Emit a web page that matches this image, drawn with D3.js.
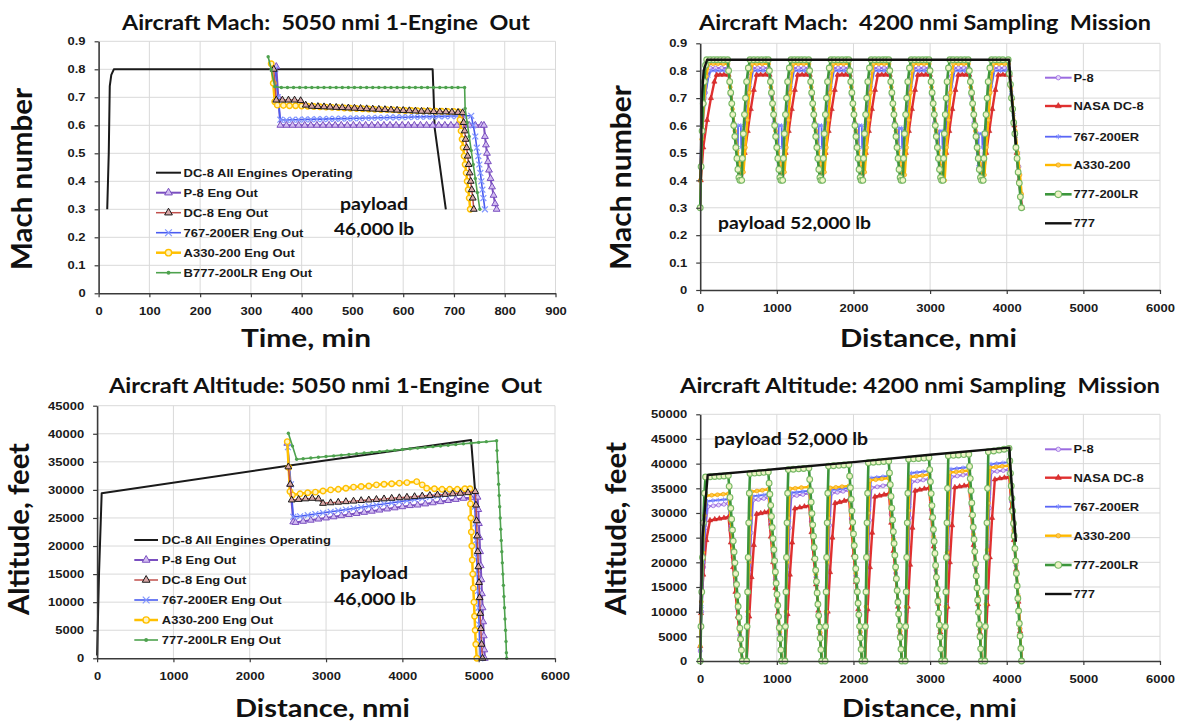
<!DOCTYPE html>
<html>
<head>
<meta charset="utf-8">
<script src="https://cdnjs.cloudflare.com/ajax/libs/d3/7.8.5/d3.min.js"></script>
<style>
  body { margin: 0; background: #fff; }
  svg { display: block; }
</style>
</head>
<body>
<svg id="fig" width="1180" height="725"></svg>
<script>
// ---- tick values / labels ----
const machTicks = [0, 0.1, 0.2, 0.3, 0.4, 0.5, 0.6, 0.7, 0.8, 0.9];
const machLabels = ["0", "0.1", "0.2", "0.3", "0.4", "0.5", "0.6", "0.7", "0.8", "0.9"];
const timeTicks = [0, 100, 200, 300, 400, 500, 600, 700, 800, 900];
const timeLabels = ["0", "100", "200", "300", "400", "500", "600", "700", "800", "900"];
const distTicks = [0, 1000, 2000, 3000, 4000, 5000, 6000];
const distLabels = ["0", "1000", "2000", "3000", "4000", "5000", "6000"];
const alt45Ticks = [0, 5000, 10000, 15000, 20000, 25000, 30000, 35000, 40000, 45000];
const alt45Labels = ["0", "5000", "10000", "15000", "20000", "25000", "30000", "35000", "40000", "45000"];
const alt50Ticks = [0, 5000, 10000, 15000, 20000, 25000, 30000, 35000, 40000, 45000, 50000];
const alt50Labels = ["0", "5000", "10000", "15000", "20000", "25000", "30000", "35000", "40000", "45000", "50000"];

const engOutNames = ["DC-8 All Engines Operating", "P-8 Eng Out", "DC-8 Eng Out", "767-200ER Eng Out", "A330-200 Eng Out", "B777-200LR Eng Out"];
const engOutNamesAlt = ["DC-8 All Engines Operating", "P-8 Eng Out", "DC-8 Eng Out", "767-200ER Eng Out", "A330-200 Eng Out", "777-200LR Eng Out"];
const sampleNames = ["P-8", "NASA DC-8", "767-200ER", "A330-200", "777-200LR", "777"];

// ---- Mach vs time, 5050 nmi engine out [min, Mach] ----
const machOutDc8All = [[17,0.30],[20,0.50],[22,0.74],[25,0.78],[30,0.80],[658,0.80],[660,0.70],[662,0.59],[684,0.30]];
const machOutP8 = [[350,0.81],[354,0.70],[358,0.60],[370,0.60],[382,0.60],[394,0.60],[406,0.60],[418,0.60],[430,0.60],[442,0.60],[454,0.60],[466,0.60],[478,0.60],[490,0.60],[502,0.60],[514,0.60],[526,0.60],[538,0.60],[550,0.60],[562,0.60],[574,0.60],[586,0.60],[598,0.60],[610,0.60],[622,0.60],[634,0.60],[646,0.60],[658,0.60],[670,0.60],[682,0.60],[694,0.60],[706,0.60],[718,0.60],[730,0.60],[742,0.60],[754,0.60],[759,0.60],[761,0.56],[763,0.53],[765,0.50],[767,0.47],[769,0.44],[772,0.41],[775,0.38],[778,0.35],[781,0.32],[784,0.30]];
const machOutDc8 = [[345,0.80],[350,0.69],[362,0.69],[374,0.69],[386,0.69],[398,0.688],[408,0.672],[420,0.668],[432,0.667],[444,0.666],[456,0.665],[468,0.664],[480,0.663],[492,0.662],[504,0.661],[516,0.660],[528,0.659],[540,0.658],[552,0.657],[564,0.656],[576,0.655],[588,0.654],[600,0.653],[612,0.652],[624,0.651],[636,0.650],[648,0.650],[660,0.649],[672,0.648],[684,0.648],[696,0.647],[708,0.646],[717,0.645],[719,0.61],[721,0.58],[723,0.55],[725,0.52],[727,0.49],[729,0.46],[731,0.43],[733,0.40],[735,0.37],[737,0.34],[739,0.30]];
const machOut767 = [[348,0.80],[353,0.70],[358,0.62],[370,0.619],[382,0.620],[394,0.620],[406,0.621],[418,0.621],[430,0.622],[442,0.622],[454,0.623],[466,0.623],[478,0.624],[490,0.624],[502,0.625],[514,0.625],[526,0.626],[538,0.626],[550,0.627],[562,0.627],[574,0.628],[586,0.628],[598,0.629],[610,0.629],[622,0.630],[634,0.630],[646,0.631],[658,0.631],[670,0.632],[682,0.632],[694,0.633],[706,0.633],[718,0.634],[734,0.634],[738,0.60],[742,0.56],[745,0.52],[748,0.49],[750,0.46],[752,0.43],[754,0.40],[756,0.37],[758,0.34],[761,0.30]];
const machOutA330 = [[340,0.82],[344,0.75],[347,0.684],[352,0.672],[364,0.671],[376,0.670],[388,0.670],[400,0.669],[412,0.668],[424,0.667],[436,0.666],[448,0.665],[460,0.664],[472,0.663],[484,0.662],[496,0.661],[508,0.660],[520,0.659],[532,0.658],[544,0.657],[556,0.656],[568,0.656],[580,0.655],[592,0.654],[604,0.653],[616,0.653],[628,0.652],[640,0.651],[652,0.651],[664,0.650],[676,0.650],[688,0.649],[700,0.649],[710,0.648],[712,0.62],[714,0.58],[716,0.55],[718,0.52],[720,0.49],[722,0.46],[724,0.43],[726,0.40],[728,0.37],[730,0.34],[732,0.30]];
const machOut777 = [[334,0.845],[340,0.80],[347,0.738],[360,0.735],[372,0.735],[384,0.735],[396,0.735],[408,0.735],[420,0.735],[432,0.735],[444,0.735],[456,0.735],[468,0.735],[480,0.735],[492,0.735],[504,0.735],[516,0.735],[528,0.735],[540,0.735],[552,0.735],[564,0.735],[576,0.735],[588,0.735],[600,0.735],[612,0.735],[624,0.735],[636,0.735],[648,0.735],[660,0.735],[672,0.735],[684,0.735],[696,0.735],[708,0.735],[721,0.735],[722,0.66],[726,0.61],[730,0.56],[734,0.51],[738,0.46],[742,0.41],[746,0.36],[751,0.30]];

// ---- Altitude vs distance, 5050 nmi engine out [nmi, ft] ----
const altOutDc8All = [[0,500],[25,15000],[60,29400],[2500,34300],[4900,38900],[4952,30000]];
const altOutP8 = [[2492,38300],[2530,31000],[2570,24300],[2600,24200],[2700,24400],[2800,24600],[2900,24800],[3000,25000],[3100,25200],[3200,25400],[3300,25600],[3400,25800],[3500,26000],[3600,26200],[3700,26400],[3800,26600],[3900,26800],[4000,27000],[4100,27200],[4200,27300],[4300,27500],[4400,27700],[4500,27900],[4600,28100],[4700,28300],[4800,28500],[4900,28600],[4985,28700],[4995,26500],[5003,24000],[5011,21500],[5019,19000],[5027,16500],[5035,14000],[5043,11500],[5051,9000],[5059,6500],[5067,4000],[5074,1500],[5080,0]];
const altOutDc8 = [[2506,34100],[2530,31000],[2550,28200],[2640,28300],[2730,28400],[2820,28500],[2900,28400],[2960,27600],[3060,27700],[3160,27800],[3260,27900],[3360,28000],[3460,28100],[3560,28200],[3660,28300],[3760,28400],[3860,28500],[3960,28600],[4060,28700],[4160,28800],[4260,28900],[4360,29000],[4460,29100],[4560,29200],[4660,29300],[4760,29400],[4860,29500],[4955,29700],[4964,27300],[4972,24500],[4980,21800],[4988,19000],[4996,16300],[5004,13500],[5012,10800],[5020,8000],[5028,5300],[5038,2500],[5050,0]];
const altOut767 = [[2500,37600],[2540,31000],[2571,25200],[2660,25300],[2760,25500],[2860,25700],[2960,25900],[3060,26100],[3160,26300],[3260,26500],[3360,26700],[3460,26900],[3560,27100],[3660,27300],[3760,27500],[3860,27700],[3960,27900],[4060,28100],[4160,28300],[4260,28500],[4360,28700],[4460,28900],[4560,29100],[4660,29300],[4760,29500],[4860,29600],[4940,29700],[4950,27000],[4958,24000],[4966,21000],[4974,18000],[4982,15000],[4990,12000],[4998,9000],[5006,6000],[5014,3000],[5022,0]];
const altOutA330 = [[2492,38600],[2510,34000],[2527,29700],[2560,29100],[2660,29300],[2760,29500],[2860,29600],[2960,29800],[3060,30000],[3160,30100],[3260,30300],[3360,30500],[3460,30600],[3560,30700],[3660,30900],[3760,31000],[3860,31100],[3960,31200],[4060,31300],[4188,31470],[4260,30900],[4319,30300],[4420,30200],[4520,30100],[4620,30100],[4720,30100],[4820,30200],[4886,30200],[4892,27500],[4898,25000],[4904,22500],[4910,20000],[4916,17500],[4922,15000],[4930,12500],[4938,10000],[4946,7500],[4954,5000],[4962,2500],[4975,0]];
const altOut777 = [[2506,40100],[2560,37800],[2615,35450],[2700,35560],[2800,35680],[2900,35810],[3000,35940],[3100,36060],[3200,36190],[3300,36320],[3400,36440],[3500,36570],[3600,36690],[3700,36820],[3800,36950],[3900,37070],[4000,37200],[4100,37330],[4200,37450],[4300,37580],[4400,37700],[4500,37830],[4600,37960],[4700,38080],[4800,38210],[4900,38340],[5000,38460],[5100,38590],[5235,38760],[5240,37000],[5247,35000],[5254,33000],[5261,31000],[5268,29000],[5275,27000],[5282,25000],[5289,23000],[5296,21000],[5303,19000],[5310,17000],[5317,15000],[5324,13000],[5331,11000],[5338,9000],[5345,7000],[5352,5000],[5358,3000],[5363,1000],[5367,0]];

// ---- Mach vs distance, 4200 nmi sampling mission [nmi, Mach] ----
const machSampleP8 = [[0,0.40],[30,0.58],[70,0.72],[110,0.80],[130,0.81],[200,0.81],[280,0.81],[365,0.81],[400,0.71],[435,0.61],[470,0.52],[505,0.45],[530,0.44],[570,0.56],[610,0.68],[650,0.78],[675,0.81],[750,0.81],[820,0.81],[893,0.81],[928,0.71],[963,0.61],[998,0.52],[1033,0.45],[1062,0.44],[1102,0.56],[1142,0.68],[1182,0.78],[1207,0.81],[1280,0.81],[1350,0.81],[1419,0.81],[1454,0.71],[1489,0.61],[1524,0.52],[1559,0.45],[1584,0.44],[1624,0.56],[1664,0.68],[1704,0.78],[1729,0.81],[1800,0.81],[1870,0.81],[1942,0.81],[1977,0.71],[2012,0.61],[2047,0.52],[2082,0.45],[2108,0.44],[2148,0.56],[2188,0.68],[2228,0.78],[2253,0.81],[2330,0.81],[2400,0.81],[2464,0.81],[2499,0.71],[2534,0.61],[2569,0.52],[2604,0.45],[2630,0.44],[2670,0.56],[2710,0.68],[2750,0.78],[2775,0.81],[2850,0.81],[2920,0.81],[2989,0.81],[3024,0.71],[3059,0.61],[3094,0.52],[3129,0.45],[3157,0.44],[3197,0.56],[3237,0.68],[3277,0.78],[3302,0.81],[3370,0.81],[3440,0.81],[3501,0.81],[3536,0.71],[3571,0.61],[3606,0.52],[3641,0.45],[3678,0.44],[3718,0.56],[3758,0.68],[3798,0.78],[3823,0.81],[3900,0.81],[3970,0.81],[4025,0.81],[4060,0.71],[4095,0.61],[4130,0.52],[4160,0.45]];
const machSampleDc8 = [[0,0.30],[8,0.40],[40,0.52],[90,0.62],[140,0.70],[185,0.76],[215,0.785],[260,0.785],[310,0.785],[370,0.785],[400,0.72],[430,0.64],[460,0.56],[490,0.48],[520,0.40],[540,0.40],[580,0.50],[620,0.58],[660,0.66],[700,0.73],[737,0.785],[790,0.785],[850,0.785],[905,0.785],[935,0.72],[965,0.64],[995,0.56],[1025,0.48],[1055,0.40],[1075,0.40],[1115,0.50],[1155,0.58],[1195,0.66],[1235,0.73],[1272,0.785],[1330,0.785],[1380,0.785],[1430,0.785],[1460,0.72],[1490,0.64],[1518,0.56],[1547,0.48],[1576,0.40],[1596,0.40],[1636,0.50],[1676,0.58],[1716,0.66],[1756,0.73],[1793,0.785],[1850,0.785],[1900,0.785],[1952,0.785],[1982,0.72],[2012,0.64],[2041,0.56],[2071,0.48],[2101,0.40],[2121,0.40],[2161,0.50],[2201,0.58],[2241,0.66],[2281,0.73],[2318,0.785],[2370,0.785],[2420,0.785],[2474,0.785],[2504,0.72],[2534,0.64],[2563,0.56],[2593,0.48],[2623,0.40],[2643,0.40],[2683,0.50],[2723,0.58],[2763,0.66],[2803,0.73],[2840,0.785],[2890,0.785],[2945,0.785],[2999,0.785],[3029,0.72],[3059,0.64],[3089,0.56],[3119,0.48],[3150,0.40],[3170,0.40],[3210,0.50],[3250,0.58],[3290,0.66],[3330,0.73],[3367,0.785],[3420,0.785],[3470,0.785],[3512,0.785],[3545,0.72],[3577,0.64],[3610,0.56],[3642,0.48],[3672,0.40],[3692,0.40],[3732,0.50],[3772,0.58],[3812,0.66],[3852,0.73],[3889,0.785],[3950,0.785],[4000,0.785],[4040,0.785],[4070,0.70],[4100,0.60],[4130,0.50],[4160,0.40],[4200,0.30]];
const machSample767 = [[0,0.45],[20,0.60],[60,0.70],[110,0.78],[140,0.80],[200,0.80],[260,0.80],[320,0.80],[368,0.80],[400,0.72],[430,0.64],[460,0.56],[490,0.47],[494,0.60],[530,0.60],[536,0.52],[570,0.58],[610,0.66],[650,0.74],[690,0.80],[750,0.80],[820,0.80],[895,0.80],[925,0.72],[955,0.64],[985,0.56],[1020,0.47],[1024,0.60],[1062,0.60],[1068,0.52],[1105,0.58],[1145,0.66],[1185,0.74],[1225,0.80],[1290,0.80],[1360,0.80],[1422,0.80],[1450,0.72],[1480,0.64],[1510,0.56],[1542,0.47],[1546,0.60],[1583,0.60],[1589,0.52],[1626,0.58],[1666,0.66],[1706,0.74],[1746,0.80],[1810,0.80],[1880,0.80],[1945,0.80],[1975,0.72],[2005,0.64],[2035,0.56],[2067,0.47],[2071,0.60],[2108,0.60],[2114,0.52],[2151,0.58],[2191,0.66],[2231,0.74],[2271,0.80],[2330,0.80],[2400,0.80],[2467,0.80],[2497,0.72],[2527,0.64],[2557,0.56],[2589,0.47],[2593,0.59],[2630,0.59],[2636,0.52],[2673,0.58],[2713,0.66],[2753,0.74],[2793,0.80],[2860,0.80],[2925,0.80],[2992,0.80],[3022,0.72],[3052,0.64],[3082,0.56],[3114,0.47],[3118,0.58],[3157,0.58],[3163,0.52],[3200,0.58],[3240,0.66],[3280,0.74],[3320,0.80],[3390,0.80],[3450,0.80],[3505,0.80],[3535,0.72],[3565,0.64],[3595,0.56],[3630,0.45],[3634,0.57],[3678,0.57],[3684,0.52],[3720,0.58],[3760,0.66],[3800,0.74],[3840,0.80],[3920,0.80],[3990,0.80],[4030,0.80],[4060,0.72],[4090,0.64],[4120,0.56],[4150,0.50]];
const machSampleA330 = [[0,0.40],[20,0.55],[50,0.68],[80,0.78],[110,0.825],[170,0.825],[230,0.825],[300,0.825],[362,0.825],[392,0.74],[422,0.66],[452,0.58],[482,0.51],[512,0.46],[540,0.43],[565,0.43],[590,0.52],[615,0.62],[640,0.72],[665,0.80],[680,0.825],[740,0.825],[810,0.825],[893,0.825],[923,0.74],[953,0.66],[983,0.58],[1013,0.51],[1043,0.46],[1075,0.43],[1100,0.43],[1125,0.52],[1150,0.62],[1175,0.72],[1200,0.80],[1215,0.825],[1280,0.825],[1350,0.825],[1419,0.825],[1449,0.74],[1479,0.66],[1509,0.58],[1539,0.51],[1569,0.46],[1597,0.43],[1622,0.43],[1647,0.52],[1672,0.62],[1697,0.72],[1722,0.80],[1737,0.825],[1800,0.825],[1870,0.825],[1942,0.825],[1972,0.74],[2002,0.66],[2032,0.58],[2062,0.51],[2092,0.46],[2122,0.43],[2147,0.43],[2172,0.52],[2197,0.62],[2222,0.72],[2247,0.80],[2262,0.825],[2330,0.825],[2400,0.825],[2464,0.825],[2494,0.74],[2524,0.66],[2554,0.58],[2584,0.51],[2614,0.46],[2644,0.42],[2669,0.42],[2694,0.52],[2719,0.62],[2744,0.72],[2769,0.80],[2784,0.825],[2850,0.825],[2920,0.825],[2989,0.825],[3019,0.74],[3049,0.66],[3079,0.58],[3109,0.51],[3139,0.45],[3170,0.40],[3190,0.40],[3215,0.52],[3240,0.62],[3265,0.72],[3290,0.80],[3305,0.825],[3370,0.825],[3440,0.825],[3501,0.825],[3531,0.74],[3561,0.66],[3591,0.58],[3621,0.51],[3651,0.46],[3690,0.42],[3710,0.42],[3735,0.52],[3760,0.62],[3785,0.72],[3810,0.80],[3825,0.825],[3900,0.825],[3970,0.825],[4023,0.825],[4053,0.74],[4083,0.66],[4113,0.58],[4143,0.50],[4173,0.42],[4195,0.35]];
const machSample777lr = [[0,0.30],[12,0.45],[25,0.58],[40,0.68],[55,0.76],[70,0.82],[85,0.84],[130,0.84],[175,0.84],[220,0.84],[265,0.84],[310,0.84],[358,0.84],[371,0.80],[385,0.76],[398,0.72],[412,0.68],[425,0.64],[438,0.60],[452,0.56],[465,0.52],[479,0.48],[492,0.44],[505,0.41],[519,0.40],[541,0.40],[550,0.48],[563,0.57],[578,0.64],[592,0.70],[606,0.76],[628,0.81],[650,0.84],[700,0.84],[750,0.84],[800,0.84],[850,0.84],[889,0.84],[903,0.80],[917,0.76],[930,0.72],[944,0.68],[958,0.64],[972,0.60],[985,0.56],[999,0.52],[1013,0.48],[1027,0.44],[1040,0.41],[1054,0.40],[1076,0.40],[1085,0.48],[1098,0.57],[1113,0.64],[1127,0.70],[1141,0.76],[1163,0.81],[1185,0.84],[1230,0.84],[1275,0.84],[1320,0.84],[1365,0.84],[1415,0.84],[1428,0.80],[1442,0.76],[1455,0.72],[1468,0.68],[1482,0.64],[1495,0.60],[1508,0.56],[1522,0.52],[1535,0.48],[1548,0.44],[1562,0.41],[1575,0.40],[1597,0.40],[1606,0.48],[1619,0.57],[1634,0.64],[1648,0.70],[1662,0.76],[1684,0.81],[1706,0.84],[1750,0.84],[1800,0.84],[1850,0.84],[1900,0.84],[1938,0.84],[1952,0.80],[1965,0.76],[1979,0.72],[1992,0.68],[2006,0.64],[2019,0.60],[2033,0.56],[2046,0.52],[2060,0.48],[2073,0.44],[2087,0.41],[2100,0.40],[2122,0.40],[2131,0.48],[2144,0.57],[2159,0.64],[2173,0.70],[2187,0.76],[2209,0.81],[2231,0.84],[2280,0.84],[2330,0.84],[2380,0.84],[2420,0.84],[2460,0.84],[2474,0.80],[2487,0.76],[2501,0.72],[2514,0.68],[2528,0.64],[2541,0.60],[2555,0.56],[2568,0.52],[2582,0.48],[2595,0.44],[2609,0.41],[2622,0.40],[2644,0.40],[2653,0.48],[2666,0.57],[2681,0.64],[2695,0.70],[2709,0.76],[2731,0.81],[2753,0.84],[2800,0.84],[2850,0.84],[2900,0.84],[2945,0.84],[2985,0.84],[2999,0.80],[3013,0.76],[3026,0.72],[3040,0.68],[3054,0.64],[3068,0.60],[3081,0.56],[3095,0.52],[3109,0.48],[3123,0.44],[3136,0.41],[3150,0.40],[3168,0.40],[3176,0.48],[3186,0.57],[3198,0.64],[3210,0.70],[3222,0.76],[3240,0.81],[3258,0.84],[3300,0.84],[3350,0.84],[3400,0.84],[3450,0.84],[3497,0.84],[3512,0.80],[3526,0.76],[3541,0.72],[3555,0.68],[3570,0.64],[3584,0.60],[3599,0.56],[3613,0.52],[3628,0.48],[3642,0.44],[3657,0.41],[3671,0.40],[3693,0.40],[3702,0.48],[3715,0.57],[3730,0.64],[3744,0.70],[3758,0.76],[3780,0.81],[3802,0.84],[3850,0.84],[3900,0.84],[3950,0.84],[4019,0.84],[4033,0.79],[4048,0.75],[4062,0.70],[4077,0.66],[4091,0.61],[4106,0.57],[4120,0.52],[4135,0.48],[4149,0.43],[4164,0.39],[4178,0.34],[4193,0.30]];
const machSample777 = [[5,0.40],[20,0.70],[45,0.80],[90,0.84],[4032,0.84],[4045,0.77],[4119,0.53]];

// ---- Altitude vs distance, 4200 nmi sampling mission [nmi, ft] ----
const altSampleP8 = [[0,2000],[20,10000],[45,19000],[70,27000],[100,31300],[170,31450],[240,31600],[310,31750],[368,31900],[398,26500],[428,21000],[458,15800],[488,10500],[518,5200],[550,0],[606,0],[625,9000],[645,18000],[665,26000],[690,32600],[760,32750],[830,32950],[890,33200],[920,27600],[950,22000],[980,16500],[1010,11000],[1040,5500],[1064,0],[1106,0],[1125,9000],[1145,18500],[1165,27000],[1190,33400],[1260,33550],[1340,33750],[1420,34000],[1450,28300],[1480,22600],[1510,17000],[1540,11300],[1565,5600],[1586,0],[1630,0],[1649,9500],[1669,19000],[1689,27500],[1714,34000],[1790,34200],[1865,34400],[1941,34600],[1971,28800],[2001,23000],[2031,17300],[2061,11500],[2088,5800],[2111,0],[2150,0],[2169,10000],[2189,20000],[2209,28500],[2234,35100],[2310,35300],[2385,35500],[2461,35700],[2491,29700],[2521,23800],[2551,17800],[2581,11900],[2608,5900],[2631,0],[2675,0],[2694,10000],[2714,20000],[2734,29000],[2759,36300],[2835,36500],[2910,36700],[2986,36900],[3016,30700],[3046,24600],[3076,18400],[3106,12300],[3130,6100],[3151,0],[3193,0],[3212,10500],[3232,21000],[3252,30000],[3277,37300],[3355,37500],[3430,37700],[3506,37900],[3536,31600],[3566,25300],[3596,18900],[3626,12600],[3650,6300],[3671,0],[3715,0],[3734,11000],[3754,22000],[3774,31000],[3799,38300],[3875,38450],[3955,38600],[4031,38800],[4061,32300],[4091,25900],[4121,19400],[4151,12900],[4173,6500],[4194,0]];
const altSampleDc8 = [[0,3000],[10,9700],[40,17500],[80,24500],[128,28500],[190,28700],[250,28850],[310,29000],[370,29200],[400,24000],[430,19000],[460,14000],[490,9000],[520,4500],[552,0],[606,0],[640,9000],[670,17000],[700,23500],[737,29800],[790,29950],[840,30100],[892,30300],[922,25200],[952,20000],[982,14800],[1012,9600],[1042,4500],[1066,0],[1106,0],[1140,9500],[1170,17500],[1200,24000],[1236,30900],[1300,31100],[1360,31300],[1422,31500],[1452,26100],[1482,20800],[1512,15500],[1542,10200],[1567,5200],[1588,0],[1630,0],[1664,10000],[1694,18000],[1724,25000],[1760,32000],[1820,32200],[1880,32450],[1943,32700],[1973,27000],[2003,21500],[2033,16000],[2063,10500],[2090,5200],[2113,0],[2150,0],[2184,10500],[2214,19000],[2244,26000],[2280,33300],[2340,33500],[2400,33700],[2463,33900],[2493,28000],[2523,22300],[2553,16600],[2583,11000],[2610,5500],[2633,0],[2675,0],[2709,11000],[2739,19500],[2769,27000],[2805,34500],[2865,34700],[2925,34900],[2988,35100],[3018,29000],[3048,23200],[3078,17400],[3108,11600],[3133,5800],[3153,0],[3193,0],[3227,11000],[3257,20000],[3287,27500],[3323,35200],[3385,35350],[3445,35500],[3508,35700],[3538,29600],[3568,23500],[3598,17500],[3628,11500],[3652,5700],[3673,0],[3715,0],[3749,11500],[3779,21000],[3809,29000],[3845,36800],[3910,37000],[3970,37150],[4033,37300],[4063,31000],[4093,24500],[4123,18500],[4153,12000],[4175,6000],[4196,0]];
const altSample767 = [[0,2500],[20,11000],[45,20000],[65,28000],[95,32400],[165,32500],[235,32600],[305,32700],[368,32800],[398,27300],[428,21900],[458,16400],[488,10900],[518,5500],[550,0],[606,0],[624,10000],[643,19500],[662,28000],[686,33400],[760,33500],[830,33650],[890,33800],[920,28200],[950,22600],[980,16900],[1010,11300],[1040,5600],[1064,0],[1106,0],[1124,10000],[1143,20000],[1162,28500],[1186,34100],[1260,34200],[1340,34350],[1420,34500],[1450,28800],[1480,23000],[1510,17300],[1540,11500],[1565,5800],[1586,0],[1630,0],[1648,10000],[1667,20000],[1686,29000],[1710,34700],[1790,34800],[1865,34950],[1941,35100],[1971,29300],[2001,23400],[2031,17600],[2061,11700],[2088,5900],[2111,0],[2150,0],[2168,11000],[2187,22000],[2206,31000],[2230,37100],[2305,37230],[2385,37370],[2461,37500],[2491,31300],[2521,25000],[2551,18800],[2581,12500],[2608,6300],[2631,0],[2675,0],[2693,11000],[2712,22000],[2731,31500],[2755,38100],[2830,38230],[2910,38370],[2986,38500],[3016,32100],[3046,25700],[3076,19300],[3106,12800],[3130,6400],[3151,0],[3193,0],[3211,11500],[3230,23000],[3249,32500],[3273,38900],[3350,39030],[3430,39170],[3506,39300],[3536,32800],[3566,26200],[3596,19700],[3626,13100],[3650,6600],[3671,0],[3715,0],[3733,12000],[3752,24000],[3771,33500],[3795,39900],[3870,40030],[3950,40170],[4031,40300],[4061,33600],[4091,26900],[4121,20200],[4151,13400],[4173,6700],[4194,0]];
const altSampleA330 = [[0,3000],[15,12000],[35,22000],[55,29500],[75,33500],[150,33600],[225,33700],[300,33800],[368,33900],[398,28400],[428,22800],[458,17200],[488,11600],[518,6000],[550,0],[606,0],[620,10000],[635,20000],[652,29000],[671,34300],[740,34450],[810,34600],[890,34800],[920,29000],[950,23300],[980,17500],[1010,11700],[1040,5900],[1064,0],[1106,0],[1120,10000],[1135,20000],[1152,29000],[1171,34900],[1240,35000],[1320,35150],[1420,35300],[1450,29400],[1480,23500],[1510,17600],[1540,11700],[1565,5800],[1586,0],[1630,0],[1644,10000],[1659,20000],[1676,29000],[1695,35100],[1770,35200],[1850,35350],[1941,35500],[1971,29600],[2001,23700],[2031,17800],[2061,11800],[2088,5900],[2111,0],[2150,0],[2164,11000],[2179,21000],[2196,30000],[2215,36600],[2290,36750],[2370,36900],[2461,37100],[2491,30900],[2521,24700],[2551,18500],[2581,12300],[2608,6100],[2631,0],[2675,0],[2689,11000],[2704,21000],[2721,30500],[2740,37300],[2820,37450],[2900,37600],[2986,37800],[3016,31500],[3046,25200],[3076,18900],[3106,12600],[3130,6300],[3151,0],[3193,0],[3207,11000],[3222,22000],[3239,31000],[3258,38200],[3340,38330],[3420,38470],[3506,38600],[3536,32200],[3566,25700],[3596,19300],[3626,12900],[3650,6400],[3671,0],[3715,0],[3729,11500],[3744,22500],[3761,32000],[3780,39200],[3860,39330],[3940,39470],[4031,39600],[4061,33000],[4091,26400],[4121,19800],[4151,13200],[4173,6600],[4194,0]];
const altSample777lr = [[0,0],[10,7000],[20,14000],[30,21000],[40,28000],[55,34000],[70,37300],[130,37350],[190,37400],[250,37450],[310,37500],[367,37600],[378,35400],[389,33150],[399,30950],[410,28750],[421,26550],[431,24300],[442,22100],[453,19900],[463,17700],[474,15500],[485,13250],[495,11050],[506,8850],[517,6650],[527,4400],[538,2200],[549,0],
  [606,0],[612,7000],[619,14000],[626,21000],[633,28000],[641,34000],[650,38000],[710,38080],[770,38150],[830,38230],[889,38300],[899,36050],[909,33800],[920,31550],[930,29300],[940,27050],[950,24800],[961,22550],[971,20300],[981,18050],[991,15750],[1002,13500],[1012,11250],[1022,9000],[1032,6750],[1043,4500],[1053,2250],[1063,0],
  [1106,0],[1112,7000],[1119,14000],[1126,21000],[1133,28000],[1141,34000],[1150,38800],[1215,38870],[1285,38950],[1350,39020],[1419,39100],[1429,36800],[1439,34500],[1448,32200],[1458,29900],[1468,27600],[1478,25300],[1487,23000],[1497,20700],[1507,18400],[1517,16100],[1526,13800],[1536,11500],[1546,9200],[1556,6900],[1565,4600],[1575,2300],[1585,0],
  [1630,0],[1636,7000],[1643,14000],[1650,21000],[1657,28000],[1665,34000],[1675,39500],[1740,39580],[1810,39650],[1875,39730],[1940,39800],[1950,37460],[1960,35120],[1970,32780],[1980,30440],[1990,28100],[2000,25750],[2010,23400],[2020,21060],[2030,18720],[2040,16380],[2050,14040],[2060,11700],[2070,9360],[2080,7020],[2090,4680],[2100,2340],[2110,0],
  [2150,0],[2156,7000],[2163,14000],[2170,21000],[2177,28000],[2185,34000],[2195,40200],[2260,40280],[2330,40350],[2395,40430],[2460,40500],[2470,38120],[2480,35740],[2490,33350],[2500,30970],[2510,28590],[2520,26210],[2530,23820],[2540,21440],[2550,19060],[2560,16680],[2570,14290],[2580,11910],[2590,9530],[2600,7150],[2610,4760],[2620,2380],[2630,0],
  [2675,0],[2681,7000],[2688,14000],[2695,21000],[2702,28000],[2710,34000],[2720,40900],[2785,40980],[2850,41050],[2920,41130],[2985,41200],[2995,38780],[3004,36350],[3014,33930],[3024,31500],[3034,29080],[3043,26650],[3053,24230],[3063,21810],[3072,19380],[3082,16960],[3092,14540],[3101,12110],[3111,9690],[3121,7270],[3131,4850],[3140,2420],[3150,0],
  [3193,0],[3199,7000],[3206,14000],[3213,21000],[3220,28000],[3228,35000],[3238,41600],[3305,41680],[3370,41750],[3440,41830],[3505,41900],[3515,39440],[3524,36970],[3534,34510],[3544,32040],[3554,29580],[3563,27110],[3573,24650],[3583,22180],[3592,19720],[3602,17250],[3612,14790],[3621,12330],[3631,9860],[3641,7400],[3651,4930],[3660,2470],[3670,0],
  [3715,0],[3721,7000],[3728,14000],[3735,21000],[3742,28000],[3750,35000],[3760,42400],[3830,42570],[3900,42750],[3965,42920],[4030,43100],[4040,40560],[4049,38030],[4059,35490],[4068,32960],[4078,30420],[4088,27880],[4097,25350],[4107,22810],[4116,20280],[4126,17740],[4136,15210],[4145,12670],[4155,10140],[4164,7600],[4174,5070],[4184,2530],[4193,0]];
const altSample777 = [[0,9500],[30,25000],[98,37700],[1000,38900],[2000,40300],[3000,41800],[4035,43250],[4045,40000],[4119,24200]];

// ---- drawing ----
const SX = 1.13; // the source figure is a little wider than tall
const tickFont = "'Liberation Sans', Arial, sans-serif";
const headFont = "Lato, 'Open Sans', sans-serif";
const svg = d3.select("#fig");

function makePanel(o) {
    const x = d3.scaleLinear().domain([o.xTicks[0], o.xTicks[o.xTicks.length - 1]]).range([o.left, o.right]);
    const y = d3.scaleLinear().domain([o.yTicks[0], o.yTicks[o.yTicks.length - 1]]).range([o.bottom, o.top]);
    const g = svg.append("g");

    // gridlines
    g.append("g").selectAll("line").data(o.xTicks.slice(1)).join("line")
        .attr("x1", (d) => x(d)).attr("x2", (d) => x(d))
        .attr("y1", o.top).attr("y2", o.bottom)
        .attr("stroke", "#d9d9d9");
    g.append("g").selectAll("line").data(o.yTicks.slice(1)).join("line")
        .attr("x1", o.left).attr("x2", o.right)
        .attr("y1", (d) => y(d)).attr("y2", (d) => y(d))
        .attr("stroke", "#d9d9d9");

    const plot = g.append("g");

    const xAxis = g.append("g").attr("transform", `translate(0,${o.bottom})`)
        .call(d3.axisBottom(x).tickValues(o.xTicks).tickFormat((d, i) => o.xLabels[i]).tickSize(4).tickSizeOuter(0).tickPadding(10));
    const yAxis = g.append("g").attr("transform", `translate(${o.left},0)`)
        .call(d3.axisLeft(y).tickValues(o.yTicks).tickFormat((d, i) => o.yLabels[i]).tickSize(4).tickSizeOuter(0));

    [xAxis, yAxis].forEach((a) => {
        a.select(".domain").attr("stroke", "#3a3a3a").attr("stroke-width", 1.6);
        a.selectAll(".tick line").attr("stroke", "#3a3a3a").attr("stroke-width", 1.2);
        a.selectAll(".tick text")
            .attr("font-family", tickFont).attr("font-weight", "bold")
            .attr("font-size", 11.5).attr("fill", "#1a1a1a")
            .attr("transform", `scale(${SX},1)`);
    });
    yAxis.selectAll(".tick text").attr("x", -13 / SX);

    return { x, y, plot };
}

function drawSeries(p, data, s) {
    p.plot.append("path").datum(data)
        .attr("fill", "none").attr("stroke", s.color).attr("stroke-width", s.width)
        .attr("stroke-linejoin", "round")
        .attr("d", d3.line().x((d) => p.x(d[0])).y((d) => p.y(d[1])));
    if (s.symbol) {
        p.plot.append("g").selectAll("path").data(data).join("path")
            .attr("transform", (d) => `translate(${p.x(d[0])},${p.y(d[1])})`)
            .attr("d", d3.symbol().type(s.symbol).size(s.size))
            .attr("fill", s.fill).attr("stroke", s.stroke).attr("stroke-width", s.sw);
    }
}

function legend(items, names, x1, x2, tx, rows) {
    items.forEach((s, i) => {
        const yy = rows[i];
        const g = svg.append("g");
        g.append("line").attr("x1", x1).attr("x2", x2).attr("y1", yy).attr("y2", yy)
            .attr("stroke", s.color).attr("stroke-width", s.width);
        if (s.symbol) {
            g.append("path").attr("transform", `translate(${(x1 + x2) / 2},${yy})`)
                .attr("d", d3.symbol().type(s.symbol).size(s.size * 1.3))
                .attr("fill", s.fill).attr("stroke", s.stroke).attr("stroke-width", s.sw);
        }
        g.append("text").attr("transform", `translate(${tx},${yy + 4}) scale(${SX},1)`)
            .attr("font-family", tickFont).attr("font-weight", "bold").attr("font-size", 11.5)
            .attr("fill", "#1a1a1a").text(names[i]);
    });
}

function head(x, y, str, size, len) {
    svg.append("text").attr("x", x).attr("y", y)
        .attr("font-family", headFont).attr("font-weight", "bold").attr("font-size", size)
        .attr("fill", "#111").attr("textLength", len).attr("lengthAdjust", "spacingAndGlyphs")
        .style("white-space", "pre").text(str);
}

function vhead(x, y, str, size, len) {
    svg.append("text").attr("transform", `translate(${x},${y}) rotate(-90)`)
        .attr("font-family", headFont).attr("font-weight", "bold").attr("font-size", size)
        .attr("fill", "#111").attr("textLength", len).attr("lengthAdjust", "spacingAndGlyphs")
        .text(str);
}

const timesSym = d3.symbolTimes || d3.symbolCross;
const starSym = d3.symbolAsterisk || d3.symbolStar;

// styles, engine-out panels
const stOutAll = { color: "#1a1a1a", width: 2 };
const stOutP8 = { color: "#7a4fc0", width: 2, symbol: d3.symbolTriangle, size: 20, fill: "#d2bdf0", stroke: "#7a4fc0", sw: 1 };
const stOutDc8 = { color: "#c0504d", width: 1.5, symbol: d3.symbolTriangle, size: 20, fill: "#d9a7a7", stroke: "#1a1a1a", sw: 1 };
const stOut767 = { color: "#4a5cf0", width: 1.6, symbol: timesSym, size: 24, fill: "none", stroke: "#8095ff", sw: 1.2 };
const stOutA330 = { color: "#ffc000", width: 2.5, symbol: d3.symbolCircle, size: 24, fill: "#fff3c4", stroke: "#ffc000", sw: 1.4 };
const stOut777 = { color: "#4ea24e", width: 1.6, symbol: d3.symbolCircle, size: 9, fill: "#4ea24e", stroke: "none", sw: 0 };

// styles, sampling panels
const stSP8 = { color: "#9b6be0", width: 2, symbol: d3.symbolCircle, size: 12, fill: "#e4d6fa", stroke: "#9b6be0", sw: 0.8 };
const stSDc8 = { color: "#e03030", width: 2.4, symbol: d3.symbolTriangle, size: 12, fill: "#e03030", stroke: "#c02020", sw: 0.5 };
const stS767 = { color: "#5a66f5", width: 1.8, symbol: starSym, size: 14, fill: "none", stroke: "#7f8cff", sw: 1 };
const stSA330 = { color: "#ffb900", width: 2.4, symbol: d3.symbolCircle, size: 12, fill: "#ffc94a", stroke: "#f0a000", sw: 0.6 };
const stS777lr = { color: "#3c963c", width: 2.6, symbol: d3.symbolCircle, size: 26, fill: "#eef4c6", stroke: "#76b865", sw: 1.1 };
const stS777 = { color: "#111", width: 2.4 };

// ---- panel 1: Mach vs time, engine out ----
const p1 = makePanel({ left: 98.6, right: 555.5, top: 41.3, bottom: 293.3,
    xTicks: timeTicks, xLabels: timeLabels, yTicks: machTicks, yLabels: machLabels });
drawSeries(p1, machOutDc8All, stOutAll);
drawSeries(p1, machOutP8, stOutP8);
drawSeries(p1, machOut767, stOut767);
drawSeries(p1, machOutA330, stOutA330);
drawSeries(p1, machOutDc8, stOutDc8);
drawSeries(p1, machOut777, stOut777);
legend([stOutAll, stOutP8, stOutDc8, stOut767, stOutA330, stOut777], engOutNames,
    156, 181, 183.6, [172.7, 192.7, 212.7, 232.7, 252.7, 272.7]);

// ---- panel 2: Mach vs distance, sampling ----
const p2 = makePanel({ left: 700.2, right: 1160, top: 43.3, bottom: 290,
    xTicks: distTicks, xLabels: distLabels, yTicks: machTicks, yLabels: machLabels });
drawSeries(p2, machSampleP8, stSP8);
drawSeries(p2, machSampleDc8, stSDc8);
drawSeries(p2, machSample767, stS767);
drawSeries(p2, machSampleA330, stSA330);
drawSeries(p2, machSample777lr, stS777lr);
drawSeries(p2, machSample777, stS777);
legend([stSP8, stSDc8, stS767, stSA330, stS777lr, stS777], sampleNames,
    1045, 1071.6, 1073.4, [77.7, 106, 136.7, 165, 194.3, 223.3]);

// ---- panel 3: altitude vs distance, engine out ----
const p3 = makePanel({ left: 97.1, right: 555, top: 405.7, bottom: 658.3,
    xTicks: distTicks, xLabels: distLabels, yTicks: alt45Ticks, yLabels: alt45Labels });
drawSeries(p3, altOutDc8All, stOutAll);
drawSeries(p3, altOutP8, stOutP8);
drawSeries(p3, altOut767, stOut767);
drawSeries(p3, altOutA330, stOutA330);
drawSeries(p3, altOutDc8, stOutDc8);
drawSeries(p3, altOut777, stOut777);
legend([stOutAll, stOutP8, stOutDc8, stOut767, stOutA330, stOut777], engOutNamesAlt,
    134.3, 158, 161.8, [540, 560, 580, 600, 620, 640]);

// ---- panel 4: altitude vs distance, sampling ----
const p4 = makePanel({ left: 700.2, right: 1160, top: 414.3, bottom: 661,
    xTicks: distTicks, xLabels: distLabels, yTicks: alt50Ticks, yLabels: alt50Labels });
drawSeries(p4, altSampleP8, stSP8);
drawSeries(p4, altSampleDc8, stSDc8);
drawSeries(p4, altSample767, stS767);
drawSeries(p4, altSampleA330, stSA330);
drawSeries(p4, altSample777lr, stS777lr);
drawSeries(p4, altSample777, stS777);
legend([stSP8, stSDc8, stS767, stSA330, stS777lr, stS777], sampleNames,
    1045, 1071.6, 1073.4, [449.3, 477.7, 506.7, 535.7, 565, 594]);

// ---- titles and labels ----
head(122, 29.5, "Aircraft Mach:  5050 nmi 1-Engine  Out", 21, 408);
head(699, 29.5, "Aircraft Mach:  4200 nmi Sampling  Mission", 21, 452);
head(109, 393, "Aircraft Altitude: 5050 nmi 1-Engine  Out", 21, 433);
head(680, 393, "Aircraft Altitude: 4200 nmi Sampling  Mission", 21, 480);

head(241, 347, "Time, min", 25, 130);
head(840, 347, "Distance, nmi", 25, 177);
head(235, 717, "Distance, nmi", 25, 175);
head(842, 717, "Distance, nmi", 25, 175);

vhead(32, 270, "Mach number", 28, 182);
vhead(631, 270, "Mach number", 28, 185);
vhead(29, 615, "Altitude, feet", 28, 172);
vhead(626, 615, "Altitude, feet", 28, 173);

head(340, 210, "payload", 17, 68);
head(334, 235, "46,000 lb", 17, 80);
head(340, 579, "payload", 17, 68);
head(334, 605, "46,000 lb", 17, 82);
head(718, 229, "payload 52,000 lb", 17, 153);
head(714, 445, "payload 52,000 lb", 17, 154);
</script>
</body>
</html>
